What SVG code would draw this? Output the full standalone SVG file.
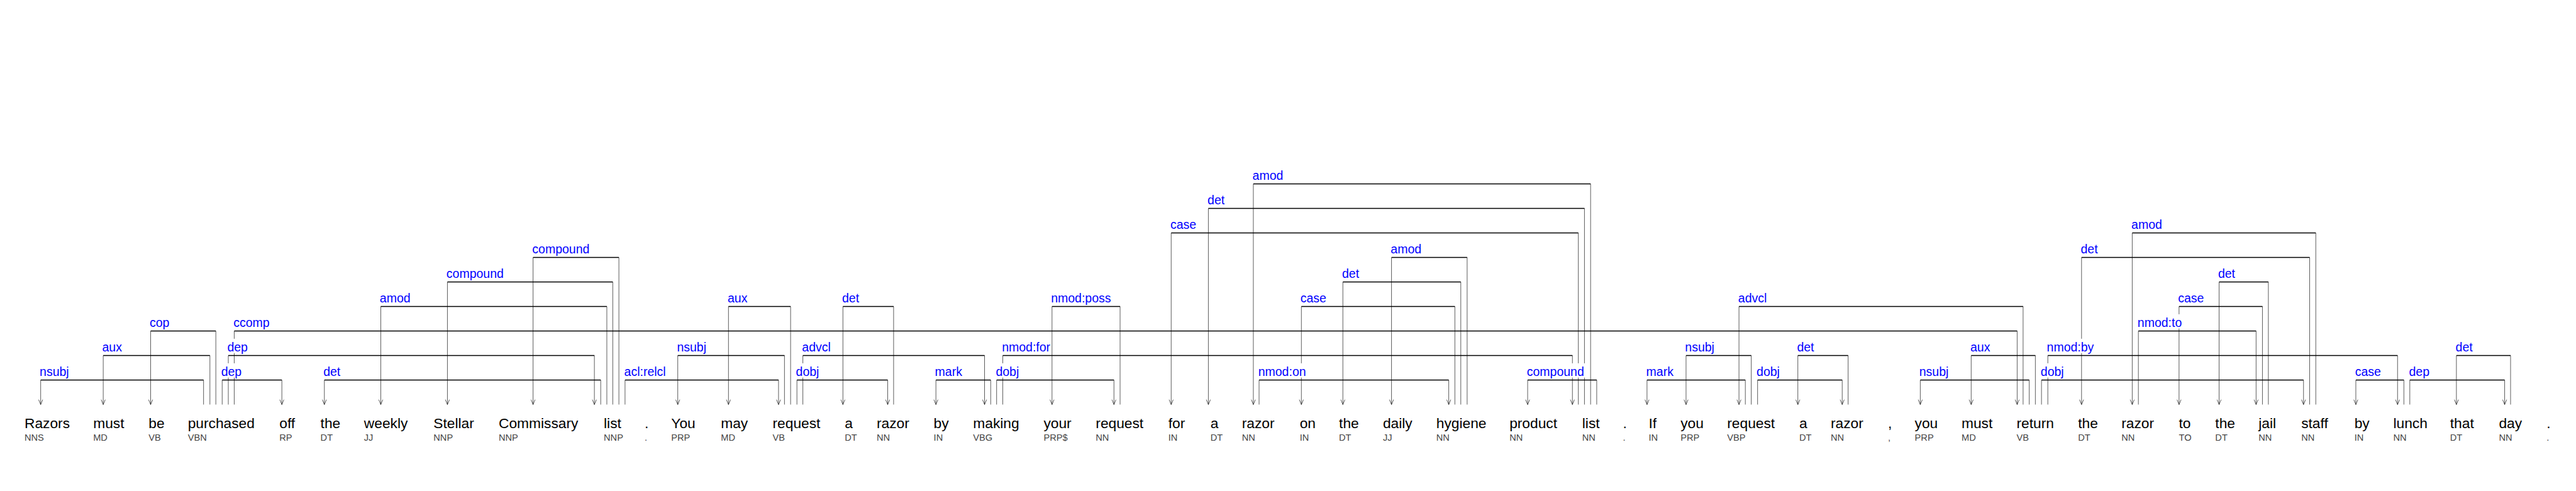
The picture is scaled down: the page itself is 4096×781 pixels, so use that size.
<svg xmlns="http://www.w3.org/2000/svg" width="4096" height="781" viewBox="0 0 4096 781">
<style>
.w{font-family:"Liberation Sans",Arial,sans-serif;font-size:35px;fill:#000}
.p{font-family:"Liberation Sans",Arial,sans-serif;font-size:22.5px;fill:#444}
.l{font-family:"Liberation Sans",Arial,sans-serif;font-size:30px;fill:#0000ff}
.h{stroke:#000;stroke-width:2;fill:none}
.v{stroke:#000;stroke-width:1;fill:none}
.a{stroke:#000;stroke-width:1;fill:none;marker-end:url(#ah)}
.bg{fill:#fff}
</style>
<defs>
<marker id="ah" markerUnits="userSpaceOnUse" markerWidth="20" markerHeight="20" refX="0" refY="0" orient="auto" viewBox="-15 -8 20 16" overflow="visible"><path d="M-12,-5 L0,0 L-12,5" fill="none" stroke="#000" stroke-width="1"/></marker>
</defs>
<rect width="4096" height="781" fill="#fff"/>
<g transform="scale(0.65)">
<g id="connectors">
<!-- L9 -->
<g><path class="h" d="M3066,450 H3891"/><path class="v" d="M3891,450 V990"/><path class="a" d="M3066,450 V990"/><rect class="bg" x="3064" y="409" width="78" height="35"/><text class="l" x="3064" y="440">amod</text></g>
<!-- L8 -->
<g><path class="h" d="M2956,510 H3876"/><path class="v" d="M3876,510 V990"/><path class="a" d="M2956,510 V990"/><rect class="bg" x="2954" y="469" width="45" height="35"/><text class="l" x="2954" y="500">det</text></g>
<!-- L7 -->
<g><path class="h" d="M2865,570 H3861"/><path class="v" d="M3861,570 V990"/><path class="a" d="M2865,570 V990"/><rect class="bg" x="2863" y="529" width="66" height="35"/><text class="l" x="2863" y="560">case</text></g>
<g><path class="h" d="M5216,570 H5665"/><path class="v" d="M5665,570 V990"/><path class="a" d="M5216,570 V990"/><rect class="bg" x="5214" y="529" width="78" height="35"/><text class="l" x="5214" y="560">amod</text></g>
<!-- L6 -->
<g><path class="h" d="M1304,630 H1514"/><path class="v" d="M1514,630 V990"/><path class="a" d="M1304,630 V990"/><rect class="bg" x="1302" y="589" width="143" height="35"/><text class="l" x="1302" y="620">compound</text></g>
<g><path class="h" d="M3404,630 H3589"/><path class="v" d="M3589,630 V990"/><path class="a" d="M3404,630 V990"/><rect class="bg" x="3402" y="589" width="78" height="35"/><text class="l" x="3402" y="620">amod</text></g>
<g><path class="h" d="M5092,630 H5650"/><path class="v" d="M5650,630 V990"/><path class="a" d="M5092,630 V990"/><rect class="bg" x="5090" y="589" width="45" height="35"/><text class="l" x="5090" y="620">det</text></g>
<!-- L5 -->
<g><path class="h" d="M1094.5,690 H1499"/><path class="v" d="M1499,690 V990"/><path class="a" d="M1094.5,690 V990"/><rect class="bg" x="1092" y="649" width="143" height="35"/><text class="l" x="1092" y="680">compound</text></g>
<g><path class="h" d="M3285,690 H3573.5"/><path class="v" d="M3573.5,690 V990"/><path class="a" d="M3285,690 V990"/><rect class="bg" x="3283" y="649" width="45" height="35"/><text class="l" x="3283" y="680">det</text></g>
<g><path class="h" d="M5428.5,690 H5549"/><path class="v" d="M5549,690 V990"/><path class="a" d="M5428.5,690 V990"/><rect class="bg" x="5426" y="649" width="45" height="35"/><text class="l" x="5426" y="680">det</text></g>
<!-- L4 -->
<g><path class="h" d="M931.5,750 H1484.5"/><path class="v" d="M1484.5,750 V990"/><path class="a" d="M931.5,750 V990"/><rect class="bg" x="929" y="709" width="78" height="35"/><text class="l" x="929" y="740">amod</text></g>
<g><path class="h" d="M1782,750 H1934"/><path class="v" d="M1934,750 V990"/><path class="a" d="M1782,750 V990"/><rect class="bg" x="1780" y="709" width="51" height="35"/><text class="l" x="1780" y="740">aux</text></g>
<g><path class="h" d="M2062,750 H2186"/><path class="v" d="M2186,750 V990"/><path class="a" d="M2062,750 V990"/><rect class="bg" x="2060" y="709" width="45" height="35"/><text class="l" x="2060" y="740">det</text></g>
<g><path class="h" d="M2573.5,750 H2740"/><path class="v" d="M2740,750 V990"/><path class="a" d="M2573.5,750 V990"/><rect class="bg" x="2571" y="709" width="150" height="35"/><text class="l" x="2571" y="740">nmod:poss</text></g>
<g><path class="h" d="M3183.5,750 H3559"/><path class="v" d="M3559,750 V990"/><path class="a" d="M3183.5,750 V990"/><rect class="bg" x="3181" y="709" width="66" height="35"/><text class="l" x="3181" y="740">case</text></g>
<g><path class="h" d="M4254,750 H4949"/><path class="v" d="M4949,750 V990"/><path class="a" d="M4254,750 V990"/><rect class="bg" x="4252" y="709" width="73" height="35"/><text class="l" x="4252" y="740">advcl</text></g>
<g><path class="h" d="M5330.5,750 H5534.5"/><path class="v" d="M5534.5,750 V990"/><path class="a" d="M5330.5,750 V990"/><rect class="bg" x="5328" y="709" width="66" height="35"/><text class="l" x="5328" y="740">case</text></g>
<!-- L3 -->
<g><path class="h" d="M368.5,810 H528"/><path class="v" d="M528,810 V990"/><path class="a" d="M368.5,810 V990"/><rect class="bg" x="366" y="769" width="51" height="35"/><text class="l" x="366" y="800">cop</text></g>
<g><path class="h" d="M573,810 H4934.5"/><path class="v" d="M573,810 V990"/><path class="a" d="M4934.5,810 V990"/><rect class="bg" x="571" y="769" width="91" height="35"/><text class="l" x="571" y="800">ccomp</text></g>
<g><path class="h" d="M5231,810 H5519"/><path class="v" d="M5231,810 V990"/><path class="a" d="M5519,810 V990"/><rect class="bg" x="5229" y="769" width="111" height="35"/><text class="l" x="5229" y="800">nmod:to</text></g>
<!-- L2 -->
<g><path class="h" d="M252.5,870 H513.5"/><path class="v" d="M513.5,870 V990"/><path class="a" d="M252.5,870 V990"/><rect class="bg" x="250" y="829" width="51" height="35"/><text class="l" x="250" y="860">aux</text></g>
<g><path class="h" d="M558.5,870 H1454"/><path class="v" d="M558.5,870 V990"/><path class="a" d="M1454,870 V990"/><rect class="bg" x="556" y="829" width="53" height="35"/><text class="l" x="556" y="860">dep</text></g>
<g><path class="h" d="M1658,870 H1919"/><path class="v" d="M1919,870 V990"/><path class="a" d="M1658,870 V990"/><rect class="bg" x="1656" y="829" width="75" height="35"/><text class="l" x="1656" y="860">nsubj</text></g>
<g><path class="h" d="M1964,870 H2408.5"/><path class="v" d="M1964,870 V990"/><path class="a" d="M2408.5,870 V990"/><rect class="bg" x="1962" y="829" width="73" height="35"/><text class="l" x="1962" y="860">advcl</text></g>
<g><path class="h" d="M2453,870 H3846.5"/><path class="v" d="M2453,870 V990"/><path class="a" d="M3846.5,870 V990"/><rect class="bg" x="2451" y="829" width="121" height="35"/><text class="l" x="2451" y="860">nmod:for</text></g>
<g><path class="h" d="M4124.5,870 H4284"/><path class="v" d="M4284,870 V990"/><path class="a" d="M4124.5,870 V990"/><rect class="bg" x="4122" y="829" width="75" height="35"/><text class="l" x="4122" y="860">nsubj</text></g>
<g><path class="h" d="M4398,870 H4521"/><path class="v" d="M4521,870 V990"/><path class="a" d="M4398,870 V990"/><rect class="bg" x="4396" y="829" width="45" height="35"/><text class="l" x="4396" y="860">det</text></g>
<g><path class="h" d="M4822,870 H4979"/><path class="v" d="M4979,870 V990"/><path class="a" d="M4822,870 V990"/><rect class="bg" x="4820" y="829" width="51" height="35"/><text class="l" x="4820" y="860">aux</text></g>
<g><path class="h" d="M5009.5,870 H5865"/><path class="v" d="M5009.5,870 V990"/><path class="a" d="M5865,870 V990"/><rect class="bg" x="5007" y="829" width="118" height="35"/><text class="l" x="5007" y="860">nmod:by</text></g>
<g><path class="h" d="M6009,870 H6141.5"/><path class="v" d="M6141.5,870 V990"/><path class="a" d="M6009,870 V990"/><rect class="bg" x="6007" y="829" width="45" height="35"/><text class="l" x="6007" y="860">det</text></g>
<!-- L1 -->
<g><path class="h" d="M99.5,930 H498"/><path class="v" d="M498,930 V990"/><path class="a" d="M99.5,930 V990"/><rect class="bg" x="97" y="889" width="75" height="35"/><text class="l" x="97" y="920">nsubj</text></g>
<g><path class="h" d="M543.5,930 H689.5"/><path class="v" d="M543.5,930 V990"/><path class="a" d="M689.5,930 V990"/><rect class="bg" x="541" y="889" width="53" height="35"/><text class="l" x="541" y="920">dep</text></g>
<g><path class="h" d="M793.5,930 H1469.5"/><path class="v" d="M1469.5,930 V990"/><path class="a" d="M793.5,930 V990"/><rect class="bg" x="791" y="889" width="45" height="35"/><text class="l" x="791" y="920">det</text></g>
<g><path class="h" d="M1529,930 H1904.5"/><path class="v" d="M1529,930 V990"/><path class="a" d="M1904.5,930 V990"/><rect class="bg" x="1527" y="889" width="105" height="35"/><text class="l" x="1527" y="920">acl:relcl</text></g>
<g><path class="h" d="M1949.5,930 H2171.5"/><path class="v" d="M1949.5,930 V990"/><path class="a" d="M2171.5,930 V990"/><rect class="bg" x="1947" y="889" width="60" height="35"/><text class="l" x="1947" y="920">dobj</text></g>
<g><path class="h" d="M2289.5,930 H2423.5"/><path class="v" d="M2423.5,930 V990"/><path class="a" d="M2289.5,930 V990"/><rect class="bg" x="2287" y="889" width="70" height="35"/><text class="l" x="2287" y="920">mark</text></g>
<g><path class="h" d="M2438,930 H2725"/><path class="v" d="M2438,930 V990"/><path class="a" d="M2725,930 V990"/><rect class="bg" x="2436" y="889" width="60" height="35"/><text class="l" x="2436" y="920">dobj</text></g>
<g><path class="h" d="M3080,930 H3544"/><path class="v" d="M3080,930 V990"/><path class="a" d="M3544,930 V990"/><rect class="bg" x="3078" y="889" width="120" height="35"/><text class="l" x="3078" y="920">nmod:on</text></g>
<g><path class="h" d="M3737,930 H3906"/><path class="v" d="M3906,930 V990"/><path class="a" d="M3737,930 V990"/><rect class="bg" x="3735" y="889" width="143" height="35"/><text class="l" x="3735" y="920">compound</text></g>
<g><path class="h" d="M4029,930 H4269.5"/><path class="v" d="M4269.5,930 V990"/><path class="a" d="M4029,930 V990"/><rect class="bg" x="4027" y="889" width="70" height="35"/><text class="l" x="4027" y="920">mark</text></g>
<g><path class="h" d="M4299.5,930 H4506.5"/><path class="v" d="M4299.5,930 V990"/><path class="a" d="M4506.5,930 V990"/><rect class="bg" x="4297" y="889" width="60" height="35"/><text class="l" x="4297" y="920">dobj</text></g>
<g><path class="h" d="M4697.5,930 H4964"/><path class="v" d="M4964,930 V990"/><path class="a" d="M4697.5,930 V990"/><rect class="bg" x="4695" y="889" width="75" height="35"/><text class="l" x="4695" y="920">nsubj</text></g>
<g><path class="h" d="M4994,930 H5635"/><path class="v" d="M4994,930 V990"/><path class="a" d="M5635,930 V990"/><rect class="bg" x="4992" y="889" width="60" height="35"/><text class="l" x="4992" y="920">dobj</text></g>
<g><path class="h" d="M5763,930 H5880.5"/><path class="v" d="M5880.5,930 V990"/><path class="a" d="M5763,930 V990"/><rect class="bg" x="5761" y="889" width="66" height="35"/><text class="l" x="5761" y="920">case</text></g>
<g><path class="h" d="M5895,930 H6127"/><path class="v" d="M5895,930 V990"/><path class="a" d="M6127,930 V990"/><rect class="bg" x="5893" y="889" width="53" height="35"/><text class="l" x="5893" y="920">dep</text></g>
</g>
<g id="w1"><text class="w" x="60" y="1048">Razors</text><text class="p" x="60" y="1079">NNS</text></g>
<g id="w2"><text class="w" x="228" y="1048">must</text><text class="p" x="228" y="1079">MD</text></g>
<g id="w3"><text class="w" x="363.5" y="1048">be</text><text class="p" x="363.5" y="1079">VB</text></g>
<g id="w4"><text class="w" x="459.5" y="1048">purchased</text><text class="p" x="459.5" y="1079">VBN</text></g>
<g id="w5"><text class="w" x="683.5" y="1048">off</text><text class="p" x="683.5" y="1079">RP</text></g>
<g id="w6"><text class="w" x="784" y="1048">the</text><text class="p" x="784" y="1079">DT</text></g>
<g id="w7"><text class="w" x="890.5" y="1048">weekly</text><text class="p" x="890.5" y="1079">JJ</text></g>
<g id="w8"><text class="w" x="1060.5" y="1048">Stellar</text><text class="p" x="1060.5" y="1079">NNP</text></g>
<g id="w9"><text class="w" x="1220" y="1048">Commissary</text><text class="p" x="1220" y="1079">NNP</text></g>
<g id="w10"><text class="w" x="1477" y="1048">list</text><text class="p" x="1477" y="1079">NNP</text></g>
<g id="w11"><text class="w" x="1577" y="1048">.</text><text class="p" x="1577" y="1079">.</text></g>
<g id="w12"><text class="w" x="1642" y="1048">You</text><text class="p" x="1642" y="1079">PRP</text></g>
<g id="w13"><text class="w" x="1763.5" y="1048">may</text><text class="p" x="1763.5" y="1079">MD</text></g>
<g id="w14"><text class="w" x="1890" y="1048">request</text><text class="p" x="1890" y="1079">VB</text></g>
<g id="w15"><text class="w" x="2066.5" y="1048">a</text><text class="p" x="2066.5" y="1079">DT</text></g>
<g id="w16"><text class="w" x="2144.5" y="1048">razor</text><text class="p" x="2144.5" y="1079">NN</text></g>
<g id="w17"><text class="w" x="2284" y="1048">by</text><text class="p" x="2284" y="1079">IN</text></g>
<g id="w18"><text class="w" x="2380.5" y="1048">making</text><text class="p" x="2380.5" y="1079">VBG</text></g>
<g id="w19"><text class="w" x="2553" y="1048">your</text><text class="p" x="2553" y="1079">PRP$</text></g>
<g id="w20"><text class="w" x="2680.5" y="1048">request</text><text class="p" x="2680.5" y="1079">NN</text></g>
<g id="w21"><text class="w" x="2858" y="1048">for</text><text class="p" x="2858" y="1079">IN</text></g>
<g id="w22"><text class="w" x="2961" y="1048">a</text><text class="p" x="2961" y="1079">DT</text></g>
<g id="w23"><text class="w" x="3038" y="1048">razor</text><text class="p" x="3038" y="1079">NN</text></g>
<g id="w24"><text class="w" x="3179.5" y="1048">on</text><text class="p" x="3179.5" y="1079">IN</text></g>
<g id="w25"><text class="w" x="3275.5" y="1048">the</text><text class="p" x="3275.5" y="1079">DT</text></g>
<g id="w26"><text class="w" x="3383" y="1048">daily</text><text class="p" x="3383" y="1079">JJ</text></g>
<g id="w27"><text class="w" x="3513.5" y="1048">hygiene</text><text class="p" x="3513.5" y="1079">NN</text></g>
<g id="w28"><text class="w" x="3692.5" y="1048">product</text><text class="p" x="3692.5" y="1079">NN</text></g>
<g id="w29"><text class="w" x="3870.5" y="1048">list</text><text class="p" x="3870.5" y="1079">NN</text></g>
<g id="w30"><text class="w" x="3970" y="1048">.</text><text class="p" x="3970" y="1079">.</text></g>
<g id="w31"><text class="w" x="4033" y="1048">If</text><text class="p" x="4033" y="1079">IN</text></g>
<g id="w32"><text class="w" x="4111" y="1048">you</text><text class="p" x="4111" y="1079">PRP</text></g>
<g id="w33"><text class="w" x="4225" y="1048">request</text><text class="p" x="4225" y="1079">VBP</text></g>
<g id="w34"><text class="w" x="4401.5" y="1048">a</text><text class="p" x="4401.5" y="1079">DT</text></g>
<g id="w35"><text class="w" x="4478.5" y="1048">razor</text><text class="p" x="4478.5" y="1079">NN</text></g>
<g id="w36"><text class="w" x="4618.5" y="1048">,</text><text class="p" x="4618.5" y="1079">,</text></g>
<g id="w37"><text class="w" x="4684" y="1048">you</text><text class="p" x="4684" y="1079">PRP</text></g>
<g id="w38"><text class="w" x="4798.5" y="1048">must</text><text class="p" x="4798.5" y="1079">MD</text></g>
<g id="w39"><text class="w" x="4933" y="1048">return</text><text class="p" x="4933" y="1079">VB</text></g>
<g id="w40"><text class="w" x="5083.5" y="1048">the</text><text class="p" x="5083.5" y="1079">DT</text></g>
<g id="w41"><text class="w" x="5189.5" y="1048">razor</text><text class="p" x="5189.5" y="1079">NN</text></g>
<g id="w42"><text class="w" x="5330" y="1048">to</text><text class="p" x="5330" y="1079">TO</text></g>
<g id="w43"><text class="w" x="5419" y="1048">the</text><text class="p" x="5419" y="1079">DT</text></g>
<g id="w44"><text class="w" x="5525" y="1048">jail</text><text class="p" x="5525" y="1079">NN</text></g>
<g id="w45"><text class="w" x="5629.5" y="1048">staff</text><text class="p" x="5629.5" y="1079">NN</text></g>
<g id="w46"><text class="w" x="5759.5" y="1048">by</text><text class="p" x="5759.5" y="1079">IN</text></g>
<g id="w47"><text class="w" x="5854.5" y="1048">lunch</text><text class="p" x="5854.5" y="1079">NN</text></g>
<g id="w48"><text class="w" x="5993.5" y="1048">that</text><text class="p" x="5993.5" y="1079">DT</text></g>
<g id="w49"><text class="w" x="6113" y="1048">day</text><text class="p" x="6113" y="1079">NN</text></g>
<g id="w50"><text class="w" x="6229.5" y="1048">.</text><text class="p" x="6229.5" y="1079">.</text></g>
</g>
</svg>
